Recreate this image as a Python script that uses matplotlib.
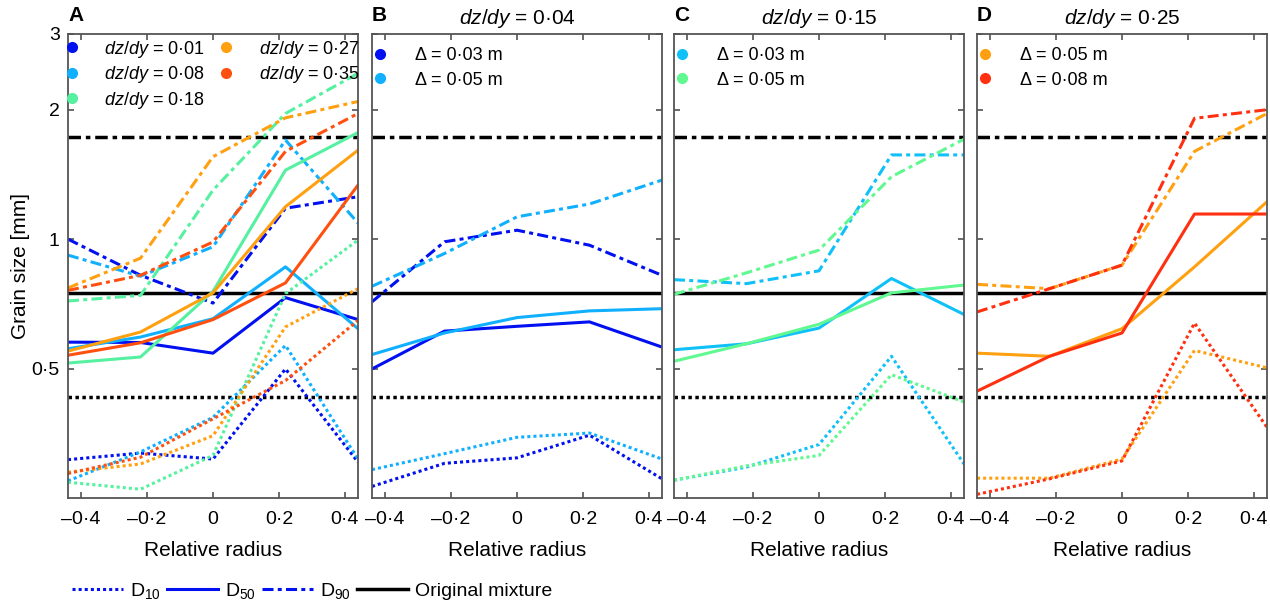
import matplotlib
matplotlib.use("Agg")
import matplotlib.pyplot as plt
from matplotlib.lines import Line2D
from matplotlib.ticker import FixedLocator, FixedFormatter, NullLocator

plt.rcParams['font.family'] = ['Liberation Sans', 'DejaVu Sans']
plt.rcParams['mathtext.fontset'] = 'custom'
plt.rcParams['mathtext.rm'] = 'Liberation Sans'
plt.rcParams['mathtext.it'] = 'Liberation Sans:italic'

# sampling positions across the bar (relative radius)
radius = [-0.44, -0.22, 0.0, 0.22, 0.44]

# grain sizes of the original mixture [mm]
mix_d10 = 0.43
mix_d50 = 0.75
mix_d90 = 1.73

# panel A: different bed slopes
a_labels = ['$dz/dy$ = 0·01', '$dz/dy$ = 0·08', '$dz/dy$ = 0·18',
            '$dz/dy$ = 0·27', '$dz/dy$ = 0·35']
a_colors = ['#0010f0', '#10b0ff', '#55f0a0', '#ffa010', '#ff5010']
a_d10 = [[0.307, 0.318, 0.308, 0.499, 0.303],
         [0.274, 0.320, 0.385, 0.566, 0.308],
         [0.272, 0.262, 0.314, 0.747, 0.995],
         [0.287, 0.300, 0.349, 0.625, 0.767],
         [0.285, 0.311, 0.382, 0.469, 0.647]]
a_d50 = [[0.576, 0.575, 0.543, 0.731, 0.650],
         [0.556, 0.592, 0.653, 0.862, 0.619],
         [0.515, 0.532, 0.756, 1.447, 1.770],
         [0.549, 0.608, 0.750, 1.190, 1.610],
         [0.537, 0.574, 0.650, 0.791, 1.336]]
a_d90 = [[1.000, 0.824, 0.710, 1.180, 1.255],
         [0.918, 0.820, 0.960, 1.700, 1.090],
         [0.718, 0.740, 1.300, 1.960, 2.430],
         [0.770, 0.903, 1.555, 1.915, 2.090],
         [0.760, 0.824, 0.985, 1.600, 1.960]]

# panel B: dz/dy = 0.04
b_labels = ['Δ = 0·03 m', 'Δ = 0·05 m']
b_colors = ['#0010f0', '#10b0ff']
b_d10 = [[0.266, 0.301, 0.310, 0.350, 0.277],
         [0.291, 0.317, 0.346, 0.354, 0.308]]
b_d50 = [[0.499, 0.611, 0.627, 0.642, 0.561],
         [0.539, 0.605, 0.657, 0.681, 0.689]]
b_d90 = [[0.715, 0.986, 1.049, 0.968, 0.824],
         [0.777, 0.926, 1.127, 1.207, 1.372]]

# panel C: dz/dy = 0.15
c_labels = ['Δ = 0·03 m', 'Δ = 0·05 m']
c_colors = ['#10c0f8', '#60f890']
c_d10 = [[0.275, 0.295, 0.333, 0.534, 0.300],
         [0.275, 0.297, 0.314, 0.484, 0.418]]
c_d50 = [[0.553, 0.571, 0.621, 0.810, 0.668],
         [0.520, 0.571, 0.634, 0.750, 0.782]]
c_d90 = [[0.805, 0.788, 0.844, 1.570, 1.570],
         [0.744, 0.835, 0.943, 1.397, 1.708]]

# panel D: dz/dy = 0.25
d_labels = ['Δ = 0·05 m', 'Δ = 0·08 m']
d_colors = ['#ffa010', '#ff3010']
d_d10 = [[0.278, 0.278, 0.308, 0.551, 0.502],
         [0.255, 0.277, 0.305, 0.638, 0.365]]
d_d50 = [[0.543, 0.534, 0.619, 0.862, 1.222],
         [0.443, 0.534, 0.605, 1.144, 1.144]]
d_d90 = [[0.785, 0.767, 0.870, 1.600, 1.960],
         [0.677, 0.767, 0.870, 1.910, 2.000]]

titles = ['', '$dz/dy$ = 0·04', '$dz/dy$ = 0·15', '$dz/dy$ = 0·25']
letters = ['A', 'B', 'C', 'D']

x_ticks = [-0.4, -0.2, 0, 0.2, 0.4]
x_ticklabels = ['–0·4', '–0·2', '0', '0·2', '0·4']
y_ticks = [0.5, 1, 2, 3]
y_ticklabels = ['0·5', '1', '2', '3']

DOT = (0, (1, 1))
DASHDOT = (0, (3.6, 1.4, 1.3, 1.4))
LW = 2.2

W, H = 1270, 606
fig = plt.figure(figsize=(W / 100, H / 100), dpi=100)

lefts = [68, 372, 674, 977]
panels = [
    (a_labels, a_colors, a_d10, a_d50, a_d90),
    (b_labels, b_colors, b_d10, b_d50, b_d90),
    (c_labels, c_colors, c_d10, c_d50, c_d90),
    (d_labels, d_colors, d_d10, d_d50, d_d90),
]

for i, (labels, colors, d10, d50, d90) in enumerate(panels):
    ax = fig.add_axes([lefts[i] / W, 1 - 498 / H, 290 / W, 464 / H])

    # original mixture reference lines
    ax.axhline(mix_d90, color='black', lw=2.5, ls=DASHDOT)
    ax.axhline(mix_d50, color='black', lw=2.5, ls='-')
    ax.axhline(mix_d10, color='black', lw=2.5, ls=DOT)

    for c, s10, s50, s90 in zip(colors, d10, d50, d90):
        ax.plot(radius, s90, color=c, lw=LW, ls=DASHDOT)
        ax.plot(radius, s50, color=c, lw=LW, ls='-')
        ax.plot(radius, s10, color=c, lw=LW, ls=DOT)

    ax.set_yscale('log')
    ax.set_ylim(0.25, 3)
    ax.set_xlim(-0.44, 0.44)
    ax.xaxis.set_major_locator(FixedLocator(x_ticks))
    ax.xaxis.set_major_formatter(FixedFormatter(x_ticklabels))
    ax.yaxis.set_major_locator(FixedLocator(y_ticks))
    ax.yaxis.set_minor_locator(NullLocator())
    if i == 0:
        ax.yaxis.set_major_formatter(FixedFormatter(y_ticklabels))
        ax.set_ylabel('Grain size [mm]', fontsize=15, labelpad=1)
    else:
        ax.yaxis.set_major_formatter(FixedFormatter(['', '', '', '']))
    ax.tick_params(which='both', direction='in', top=True, right=True,
                   length=4, width=1.1, labelsize=14, pad=9,
                   color='#444444')
    ax.tick_params(axis='y', pad=6)
    for sp in ax.spines.values():
        sp.set_color('#555555')
        sp.set_linewidth(1.3)
    ax.set_xlabel('Relative radius', fontsize=15, labelpad=10)

    ax.text(0.0, 1.02, letters[i], transform=ax.transAxes, fontsize=15,
            fontweight='bold', va='bottom', ha='left')
    if titles[i]:
        ax.set_title(titles[i], fontsize=15, pad=7)

    handles = [Line2D([], [], ls='', marker='o', ms=7, color=c) for c in colors]
    if i == 0:
        ax.legend(handles, labels, loc='upper left', ncol=2, frameon=False,
                  bbox_to_anchor=(-0.005, 0.99), borderpad=0,
                  borderaxespad=0, handlelength=0.6, handletextpad=1.48,
                  labelspacing=0.25, columnspacing=0.9, fontsize=13)
    else:
        ax.legend(handles, labels, loc='upper left', frameon=False,
                  bbox_to_anchor=(0.008, 0.972), borderpad=0,
                  borderaxespad=0, handlelength=0.6, handletextpad=1.63,
                  labelspacing=0.42, fontsize=13)

# line-style key along the bottom
key_handles = [
    Line2D([], [], color='#0010f0', lw=LW, ls=DOT),
    Line2D([], [], color='#0010f0', lw=LW, ls='-'),
    Line2D([], [], color='#0010f0', lw=LW, ls=DASHDOT),
    Line2D([], [], color='black', lw=2.5, ls='-'),
]
key_labels = ['D$_{10}$', 'D$_{50}$', 'D$_{90}$', 'Original mixture']
fig.legend(key_handles, key_labels, loc='center left', ncol=4,
           bbox_to_anchor=(72 / W, 1 - 591 / H), frameon=False,
           borderpad=0, borderaxespad=0, handlelength=2.6,
           handletextpad=0.4, columnspacing=0.3, fontsize=14)

fig.savefig('out.png', dpi=100)
